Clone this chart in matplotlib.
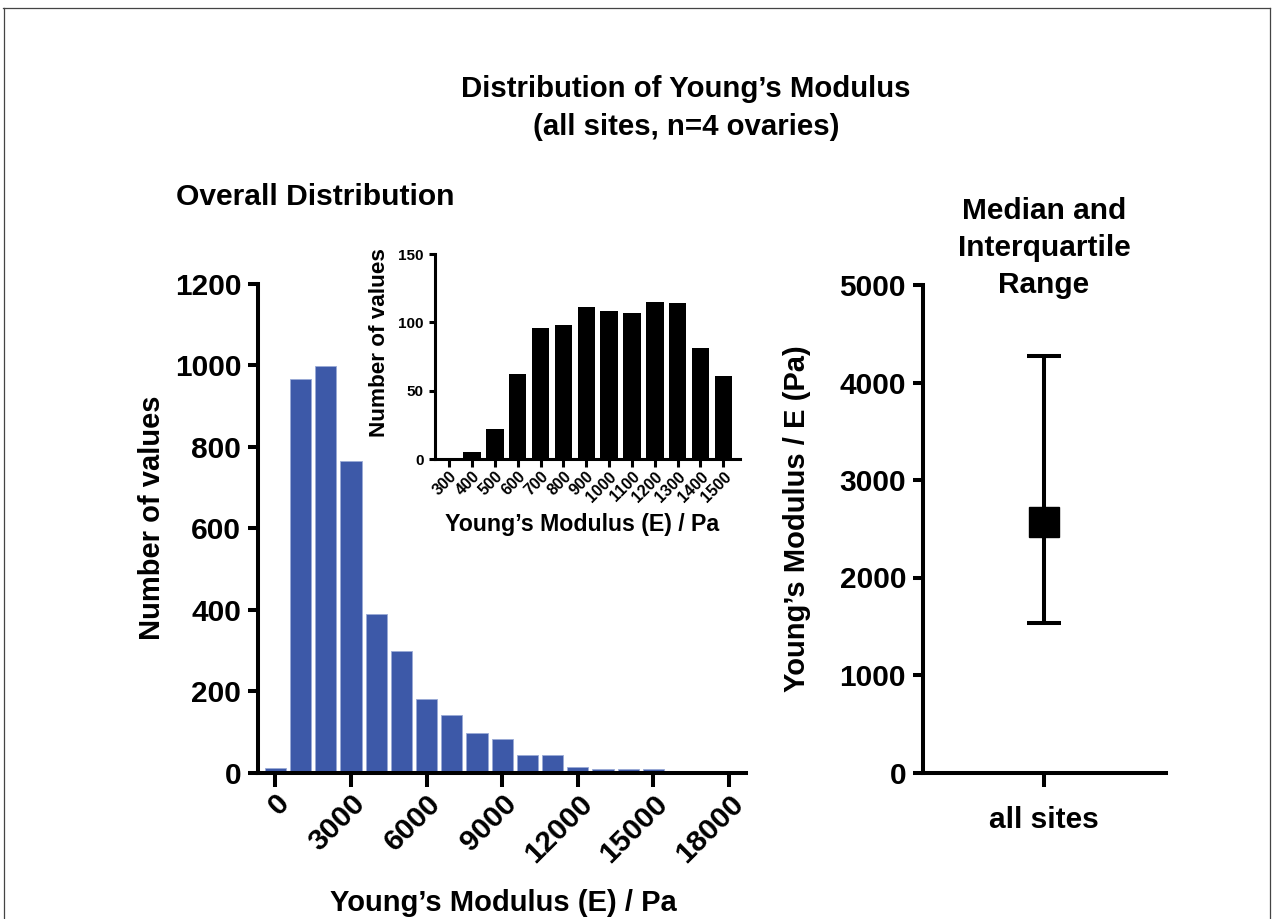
import matplotlib
matplotlib.use("Agg")
import matplotlib.pyplot as plt
from matplotlib.lines import Line2D

plt.rcParams['font.family'] = ['Liberation Sans', 'DejaVu Sans']
plt.rcParams['font.weight'] = 'bold'

# ---- data ----
bin_centers = [0, 1000, 2000, 3000, 4000, 5000, 6000, 7000, 8000, 9000,
               10000, 11000, 12000, 13000, 14000, 15000, 16000, 17000, 18000]
bin_counts = [10, 967, 998, 765, 389, 299, 180, 141, 97, 83,
              43, 43, 14, 9, 8, 9, 4, 0, 3]
main_xticks = [0, 3000, 6000, 9000, 12000, 15000, 18000]
main_yticks = [0, 200, 400, 600, 800, 1000, 1200]

inset_centers = [300, 400, 500, 600, 700, 800, 900, 1000, 1100, 1200, 1300, 1400, 1500]
inset_counts = [1, 5, 22, 62, 96, 98, 111, 108, 107, 115, 114, 81, 61]
inset_yticks = [0, 50, 100, 150]

group_labels = ["all sites"]
median_vals = [2570]
q1_vals = [1530]
q3_vals = [4275]
summary_yticks = [0, 1000, 2000, 3000, 4000, 5000]

W, H = 1273, 919
fig = plt.figure(figsize=(W / 100, H / 100), dpi=100)


def fx(x):
    return x / W


def fy(y):
    return 1 - y / H


def axes_px(left, top, right, bottom):
    return fig.add_axes([fx(left), fy(bottom), (right - left) / W, (bottom - top) / H])


SPINE_W = 2.9
TICK_LEN = 7
TICK_FS = 21.5


def style(ax, lw=SPINE_W, tl=TICK_LEN):
    for s in ('top', 'right'):
        ax.spines[s].set_visible(False)
    for s in ('left', 'bottom'):
        ax.spines[s].set_linewidth(lw)
    ax.tick_params(width=lw, length=tl, direction='out')


# ---- main histogram ----
ax = axes_px(258, 284, 746, 772.5)
ax.bar(bin_centers, bin_counts, width=840, color='#3d59a8',
       edgecolor='#9aaad6', linewidth=0.6, zorder=2)
ax.set_xlim(-690, 18670)
ax.set_ylim(0, 1200)
ax.set_xticks(main_xticks)
ax.set_xticklabels([str(t) for t in main_xticks], rotation=45, ha='right',
                   rotation_mode='anchor', fontsize=TICK_FS, fontweight='bold')
ax.set_yticks(main_yticks)
ax.set_yticklabels([str(t) for t in main_yticks], fontsize=TICK_FS, fontweight='bold')
style(ax)
ax.tick_params(axis='x', length=10, pad=2)
ax.tick_params(axis='y', pad=5)
ax.spines['left'].set_bounds(0, 1200)
for sp in ax.spines.values():
    sp.set_zorder(3)

fig.text(fx(152), fy(518), "Number of values", rotation=90, ha='center', va='center',
         fontsize=21, fontweight='bold')
fig.text(fx(503), fy(903), "Young\u2019s Modulus (E) / Pa", ha='center', va='center',
         fontsize=21, fontweight='bold')
fig.text(fx(176), fy(197), "Overall Distribution", ha='left', va='center',
         fontsize=21.6, fontweight='bold')

# ---- inset histogram ----
axi = axes_px(434.7, 254, 740, 459.3)
axi.bar(inset_centers, inset_counts, width=76, color='black', zorder=2)
axi.set_xlim(236, 1573)
axi.set_ylim(0, 150)
axi.set_xticks(inset_centers)
axi.set_xticklabels([str(t) for t in inset_centers], rotation=45, ha='right',
                    rotation_mode='anchor', fontsize=11.5, fontweight='bold')
axi.set_yticks(inset_yticks)
axi.set_yticklabels([str(t) for t in inset_yticks], fontsize=11, fontweight='bold')
style(axi, lw=2.2, tl=4.5)
axi.tick_params(axis='x', length=6, pad=1)
fig.text(fx(380), fy(343), "Number of values", rotation=90, ha='center', va='center',
         fontsize=16.2, fontweight='bold')
fig.text(fx(582), fy(525), "Young\u2019s Modulus (E) / Pa", ha='center', va='center',
         fontsize=16.7, fontweight='bold')

# ---- median and interquartile range ----
axr = axes_px(922.7, 285, 1166, 772.5)
xs = list(range(len(group_labels)))
lower = [m - q for m, q in zip(median_vals, q1_vals)]
upper = [q - m for m, q in zip(median_vals, q3_vals)]
axr.errorbar(xs, median_vals, yerr=[lower, upper], fmt='s', color='black',
             markersize=22, elinewidth=2.9, capsize=12.5, capthick=2.9, zorder=3)
axr.set_xlim(-1, 1)
axr.set_ylim(0, 5000)
axr.set_xticks(xs)
axr.set_xticklabels(group_labels, fontsize=TICK_FS, fontweight='bold')
axr.set_yticks(summary_yticks)
axr.set_yticklabels([str(t) for t in summary_yticks], fontsize=TICK_FS, fontweight='bold')
style(axr)
axr.tick_params(axis='x', length=10, pad=14)
axr.tick_params(axis='y', pad=5)
fig.text(fx(797), fy(519), "Young\u2019s Modulus / E (Pa)", rotation=90, ha='center',
         va='center', fontsize=21, fontweight='bold')
fig.text(fx(1044), fy(248), "Median and\nInterquartile\nRange", ha='center', va='center',
         fontsize=21.5, fontweight='bold', linespacing=1.4)

# ---- figure title ----
fig.text(fx(686), fy(108), "Distribution of Young\u2019s Modulus\n(all sites, n=4 ovaries)",
         ha='center', va='center', fontsize=21.2, fontweight='bold', linespacing=1.46)

# ---- frame lines around the panel ----
fcol = '#444444'
fig.add_artist(Line2D([fx(3), fx(1269.5)], [fy(7.5), fy(7.5)], color=fcol, lw=0.9))
fig.add_artist(Line2D([fx(3.5), fx(3.5)], [fy(7.5), 0], color=fcol, lw=0.9))
fig.add_artist(Line2D([fx(1269.5), fx(1269.5)], [fy(7.5), 0], color=fcol, lw=0.9))

fig.savefig("out.png", dpi=100)
